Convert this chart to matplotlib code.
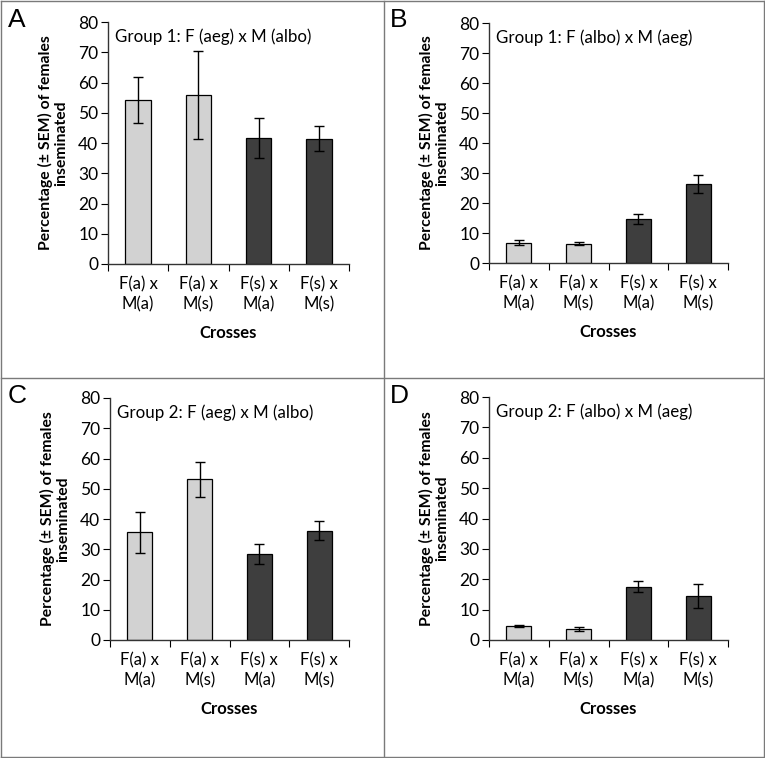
import matplotlib
matplotlib.use('Agg')
import matplotlib.pyplot as plt
import numpy as np
from matplotlib.lines import Line2D

plt.rcParams['font.family'] = ['Lato', 'DejaVu Sans']

crosses = ['F(a) x\nM(a)', 'F(a) x\nM(s)', 'F(s) x\nM(a)', 'F(s) x\nM(s)']
panel_letters = ['A', 'B', 'C', 'D']
titles = ['Group 1: F (aeg) x M (albo)', 'Group 1: F (albo) x M (aeg)',
          'Group 2: F (aeg) x M (albo)', 'Group 2: F (albo) x M (aeg)']

means_a = [54.2, 55.8, 41.7, 41.4]
sem_a = [7.5, 14.6, 6.6, 4.2]
means_b = [6.8, 6.5, 14.7, 26.5]
sem_b = [0.8, 0.5, 1.8, 3.0]
means_c = [35.6, 53.1, 28.4, 36.1]
sem_c = [6.8, 5.7, 3.4, 3.1]
means_d = [4.6, 3.6, 17.6, 14.4]
sem_d = [0.2, 0.7, 1.8, 4.0]

bar_colors = ['#d2d2d2', '#d2d2d2', '#3e3e3e', '#3e3e3e']

W, H = 765, 758
fig = plt.figure(figsize=(W / 100, H / 100), dpi=100)

# axes boxes in pixels: left, top, right, bottom
boxes = [(108, 22, 349, 264), (489, 23, 728, 263),
         (110, 398, 349, 640), (489, 397, 728, 640)]
letter_pos = [(8, 8), (390, 8), (8, 384), (390, 384)]
data = [(means_a, sem_a), (means_b, sem_b), (means_c, sem_c), (means_d, sem_d)]

for i in range(4):
    l, t, r, b = boxes[i]
    ax = fig.add_axes([l / W, 1 - b / H, (r - l) / W, (b - t) / H])
    means, sems = data[i]
    x = np.arange(len(crosses))
    ax.bar(x, means, width=0.42, color=bar_colors, edgecolor='black', linewidth=0.9, zorder=2)
    ax.errorbar(x, means, yerr=sems, fmt='none', ecolor='black', elinewidth=1,
                capsize=3.5, capthick=1, zorder=3)
    ax.set_xlim(-0.5, 3.5)
    ax.set_ylim(0, 80)
    ax.set_yticks(range(0, 81, 10))
    ax.set_xticks(np.arange(-0.5, 4, 1))
    ax.set_xticklabels([])
    ax.set_xticks(x, minor=True)
    ax.set_xticklabels(crosses, minor=True, fontsize=12, linespacing=1.25)
    ax.tick_params(axis='x', which='minor', length=0, pad=9)
    ax.tick_params(axis='x', which='major', length=5, direction='out')
    ax.tick_params(axis='y', length=5, direction='out', labelsize=12.5, pad=2)
    for s in ['top', 'right']:
        ax.spines[s].set_visible(False)
    for s in ['left', 'bottom']:
        ax.spines[s].set_linewidth(1)
        ax.spines[s].set_color('#333333')
    ax.set_ylabel('Percentage (± SEM) of females\ninseminated', fontsize=11.3,
                  fontweight='bold', linespacing=1.1)
    ax.yaxis.set_label_coords(-0.165, 0.5)
    ax.set_xlabel('Crosses', fontsize=12, fontweight='bold', labelpad=9)
    ax.text(0.03, 0.975, titles[i], transform=ax.transAxes, ha='left', va='top',
            fontsize=12.2)
    lx, ly = letter_pos[i]
    fig.text(lx / W, 1 - ly / H, panel_letters[i], ha='left', va='top',
             fontsize=19, family=['Liberation Sans', 'DejaVu Sans'])

# panel frames
frame_color = '#7a7a7a'
for xs, ys in [([1, 764], [1, 1]), ([1, 764], [757, 757]), ([1, 1], [1, 757]),
               ([764, 764], [1, 757]), ([384, 384], [1, 757]), ([1, 764], [378, 378])]:
    fig.add_artist(Line2D([v / W for v in xs], [1 - v / H for v in ys],
                          color=frame_color, linewidth=1))

fig.savefig('out.png', dpi=100)
